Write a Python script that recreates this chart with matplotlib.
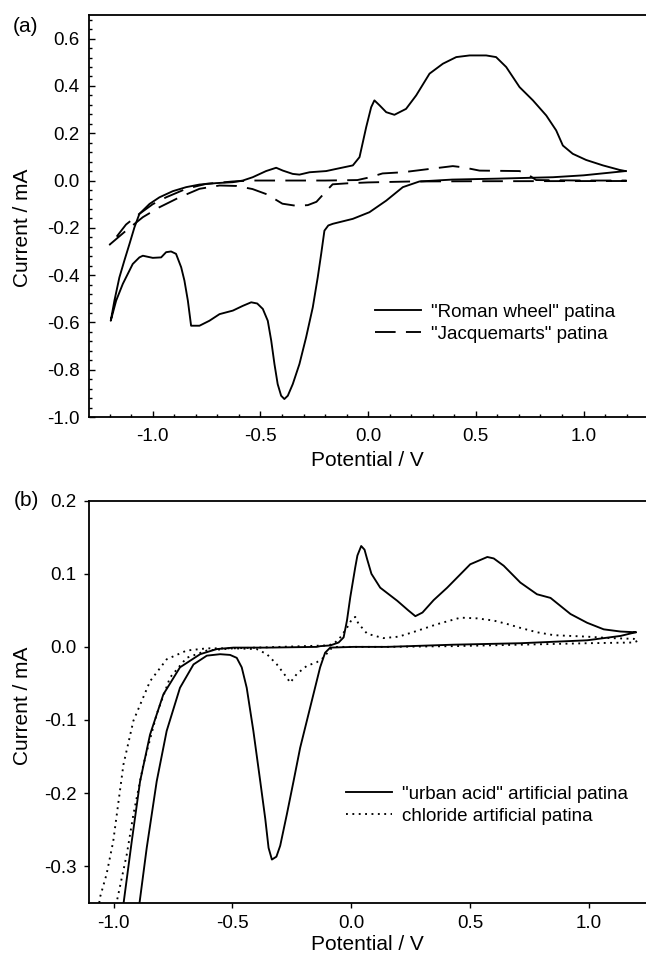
import matplotlib
matplotlib.use("Agg")
import matplotlib.pyplot as plt
from matplotlib.ticker import MultipleLocator, FormatStrFormatter

plt.rcParams['font.family'] = ['Liberation Sans', 'DejaVu Sans']
plt.rcParams['axes.unicode_minus'] = False

# ---------------- panel (a) data ----------------
roman_v = [1.195, 1.0, 0.858, 0.6, 0.39, 0.238, 0.161, 0.084, 0.006, -0.071, -0.164,
           -0.185, -0.203, -0.218, -0.234, -0.257, -0.288, -0.319, -0.35, -0.373, -0.389,
           -0.404, -0.42, -0.435, -0.45, -0.466, -0.489, -0.515, -0.543, -0.582, -0.628,
           -0.69, -0.737, -0.783, -0.822, -0.837, -0.853, -0.868, -0.892, -0.915, -0.938,
           -0.961, -1.0, -1.046, -1.062, -1.093, -1.116, -1.139, -1.17, -1.195,
           -1.178, -1.155, -1.132, -1.108, -1.085, -1.062, -1.015, -0.969, -0.907, -0.845,
           -0.783, -0.706, -0.628, -0.582, -0.536, -0.474, -0.427, -0.396, -0.35, -0.319,
           -0.272, -0.195, -0.149, -0.071, -0.04, -0.009, 0.014, 0.029, 0.053, 0.084,
           0.122, 0.176, 0.223, 0.285, 0.347, 0.409, 0.471, 0.548, 0.594, 0.641, 0.703,
           0.765, 0.827, 0.873, 0.904, 0.95, 1.012, 1.09, 1.167, 1.195]
roman_i = [0.04, 0.022, 0.014, 0.008, 0.004, -0.004, -0.028, -0.085, -0.134, -0.162, -0.183,
           -0.19, -0.212, -0.31, -0.409, -0.536, -0.663, -0.776, -0.861, -0.91, -0.924,
           -0.91, -0.861, -0.776, -0.677, -0.593, -0.543, -0.52, -0.515, -0.53, -0.55,
           -0.565, -0.593, -0.614, -0.614, -0.508, -0.423, -0.367, -0.31, -0.30, -0.303,
           -0.325, -0.327, -0.318, -0.325, -0.353, -0.395, -0.437, -0.508, -0.593,
           -0.508, -0.41, -0.339, -0.268, -0.198, -0.141, -0.099, -0.071, -0.045, -0.028,
           -0.017, -0.011, -0.007, 0.0, 0.014, 0.04, 0.054, 0.042, 0.028, 0.025,
           0.035, 0.04, 0.049, 0.064, 0.099, 0.226, 0.31, 0.339, 0.318, 0.289,
           0.278, 0.303, 0.36, 0.452, 0.494, 0.522, 0.529, 0.529, 0.522, 0.48, 0.395,
           0.339, 0.275, 0.212, 0.148, 0.113, 0.087, 0.064, 0.045, 0.04]

jacq_v = [1.2, 0.5, 0.2, 0.0, -0.1, -0.165, -0.19, -0.24, -0.28, -0.333, -0.398, -0.471,
          -0.537, -0.61, -0.69, -0.783, -0.876, -0.969, -1.046, -1.124, -1.2,
          -1.17, -1.124, -1.062, -1.0, -0.938, -0.845, -0.752, -0.628, -0.536, -0.2, -0.05,
          0.0, 0.067, 0.161, 0.285, 0.393, 0.44, 0.517, 0.703, 0.749, 0.78, 1.0, 1.2]
jacq_i = [-0.002, -0.003, -0.004, -0.008, -0.012, -0.016, -0.04, -0.09, -0.104, -0.107, -0.098,
          -0.058, -0.036, -0.023, -0.021, -0.035, -0.071, -0.113, -0.155, -0.212, -0.271,
          -0.24, -0.186, -0.141, -0.10, -0.071, -0.035, -0.014, -0.004, 0.0, 0.0, 0.002,
          0.012, 0.03, 0.035, 0.049, 0.061, 0.056, 0.042, 0.04, 0.021, 0.002, 0.0, 0.0]

# ---------------- panel (b) data ----------------
urban_v = [1.197, 1.134, 0.993, 0.712, 0.431, 0.15, 0.01, -0.0885, -0.11, -0.131, -0.173,
           -0.215, -0.243, -0.271, -0.299, -0.315, -0.334, -0.348, -0.362, -0.383, -0.412,
           -0.44, -0.461, -0.482, -0.51, -0.552, -0.608, -0.664, -0.721, -0.777, -0.819,
           -0.861, -0.892, -0.92,
           -0.99, -0.959, -0.924, -0.889, -0.847, -0.791, -0.721, -0.636, -0.566, -0.496,
           -0.355, -0.145, -0.131, -0.088, -0.053, -0.032, -0.018, -0.004, 0.017, 0.026,
           0.042, 0.056, 0.067, 0.085, 0.122, 0.194, 0.24, 0.27, 0.3, 0.347, 0.404,
           0.501, 0.573, 0.6, 0.642, 0.712, 0.782, 0.839, 0.881, 0.923, 0.993, 1.063,
           1.134, 1.197]
urban_i = [0.02, 0.015, 0.009, 0.005, 0.003, 0.0, 0.0, -0.001, -0.008, -0.028, -0.083,
           -0.138, -0.184, -0.229, -0.272, -0.287, -0.291, -0.275, -0.235, -0.184, -0.115,
           -0.056, -0.028, -0.015, -0.011, -0.010, -0.012, -0.024, -0.056, -0.115, -0.184,
           -0.275, -0.352, -0.45,
           -0.45, -0.352, -0.266, -0.184, -0.12, -0.065, -0.028, -0.010, -0.003, -0.001,
           -0.001, 0.0, 0.001, 0.002, 0.006, 0.013, 0.036, 0.068, 0.109, 0.125,
           0.138, 0.133, 0.12, 0.1, 0.081, 0.063, 0.05, 0.042, 0.047, 0.064, 0.081,
           0.113, 0.123, 0.121, 0.111, 0.088, 0.072, 0.067, 0.056, 0.045, 0.033, 0.024,
           0.021, 0.02]

chlor_v = [1.204, 1.19, 0.993, 0.712, 0.431, 0.15, -0.06, -0.088, -0.117, -0.145, -0.187,
           -0.229, -0.257, -0.271, -0.313, -0.355, -0.398, -0.496, -0.608, -0.693, -0.763,
           -0.819, -0.875, -0.917, -0.945, -0.988, -1.01,
           -1.08, -1.058, -1.03, -1.002, -0.959, -0.917, -0.847, -0.777, -0.693, -0.608,
           -0.496, -0.3, -0.1, -0.074, -0.046, -0.018, 0.003, 0.017, 0.03, 0.067, 0.135,
           0.2, 0.278, 0.361, 0.46, 0.53, 0.6, 0.66, 0.712, 0.782, 0.853,
           0.993, 1.091, 1.19, 1.204]
chlor_i = [0.008, 0.006, 0.005, 0.003, 0.001, 0.0, 0.0, -0.003, -0.015, -0.021, -0.026,
           -0.037, -0.049, -0.042, -0.024, -0.01, -0.003, -0.002, -0.005, -0.015, -0.042,
           -0.092, -0.161, -0.229, -0.284, -0.35, -0.4,
           -0.4, -0.343, -0.311, -0.266, -0.161, -0.101, -0.047, -0.017, -0.005, -0.002,
           -0.002, 0.0, 0.002, 0.004, 0.013, 0.026, 0.038, 0.041, 0.032, 0.018, 0.012,
           0.014, 0.022, 0.031, 0.04, 0.039, 0.036, 0.031, 0.026, 0.02, 0.016,
           0.014, 0.012, 0.011, 0.008]

W, H = 646, 960
fig = plt.figure(figsize=(W / 100, H / 100), dpi=100)

lw = 1.35
FS = 13.5
LFS = 15

# ---- panel (a) ----
axa = fig.add_axes([89 / W, 1 - 417 / H, 1 - 89 / W, (417 - 15) / H])
axa.plot(roman_v, roman_i, color='black', lw=lw, label='"Roman wheel" patina')
axa.plot(jacq_v, jacq_i, color='black', lw=lw, dashes=(11, 5.5), label='"Jacquemarts" patina')
axa.set_xlim(-1.296, 1.29)
axa.set_ylim(-1.0, 0.7)
axa.xaxis.set_major_locator(MultipleLocator(0.5))
axa.xaxis.set_minor_locator(MultipleLocator(0.1))
axa.yaxis.set_major_locator(MultipleLocator(0.2))
axa.yaxis.set_minor_locator(MultipleLocator(0.04))
axa.xaxis.set_major_formatter(FormatStrFormatter('%.1f'))
axa.yaxis.set_major_formatter(FormatStrFormatter('%.1f'))
axa.tick_params(which='both', direction='in', labelsize=FS, width=1.0)
axa.tick_params(which='major', length=4.5)
axa.tick_params(which='minor', length=2.5)
axa.tick_params(axis='y', which='major', pad=7)
axa.tick_params(axis='x', which='major', pad=8)
axa.spines['right'].set_visible(False)
for s in ('left', 'top', 'bottom'):
    axa.spines[s].set_linewidth(1.3)
axa.set_xlabel('Potential / V', fontsize=LFS, labelpad=4)
axa.set_ylabel('Current / mA', fontsize=LFS)
axa.yaxis.set_label_coords(-0.102, 0.47)
axa.legend(loc='upper left', bbox_to_anchor=(0.5, 0.30), frameon=False, fontsize=FS,
           handlelength=2.45, handletextpad=0.55, labelspacing=0.25, borderaxespad=0)
fig.text(26 / W, 1 - 26 / H, '(a)', fontsize=LFS, ha='center', va='center')

# ---- panel (b) ----
axb = fig.add_axes([89 / W, 1 - 902.7 / H, 1 - 89 / W, (902.7 - 500.7) / H])
axb.plot(urban_v, urban_i, color='black', lw=lw, label='"urban acid" artificial patina')
axb.plot(chlor_v, chlor_i, color='black', lw=lw, dashes=(1, 2.4), label='chloride artificial patina')
axb.set_xlim(-1.104, 1.241)
axb.set_ylim(-0.35, 0.2)
axb.xaxis.set_major_locator(MultipleLocator(0.5))
axb.yaxis.set_major_locator(MultipleLocator(0.1))
axb.xaxis.set_major_formatter(FormatStrFormatter('%.1f'))
axb.yaxis.set_major_formatter(FormatStrFormatter('%.1f'))
axb.tick_params(which='major', direction='out', length=3.8, width=1.0, labelsize=FS)
axb.tick_params(axis='y', pad=5)
axb.tick_params(axis='x', pad=5)
axb.spines['right'].set_visible(False)
for s in ('left', 'top', 'bottom'):
    axb.spines[s].set_linewidth(1.3)
axb.set_xlabel('Potential / V', fontsize=LFS, labelpad=2)
axb.set_ylabel('Current / mA', fontsize=LFS)
axb.yaxis.set_label_coords(-0.102, 0.49)
axb.legend(loc='upper left', bbox_to_anchor=(0.448, 0.31), frameon=False, fontsize=FS,
           handlelength=2.45, handletextpad=0.55, labelspacing=0.25, borderaxespad=0)
fig.text(26 / W, 1 - 500 / H, '(b)', fontsize=LFS, ha='center', va='center')

fig.savefig('out.png', dpi=100)
